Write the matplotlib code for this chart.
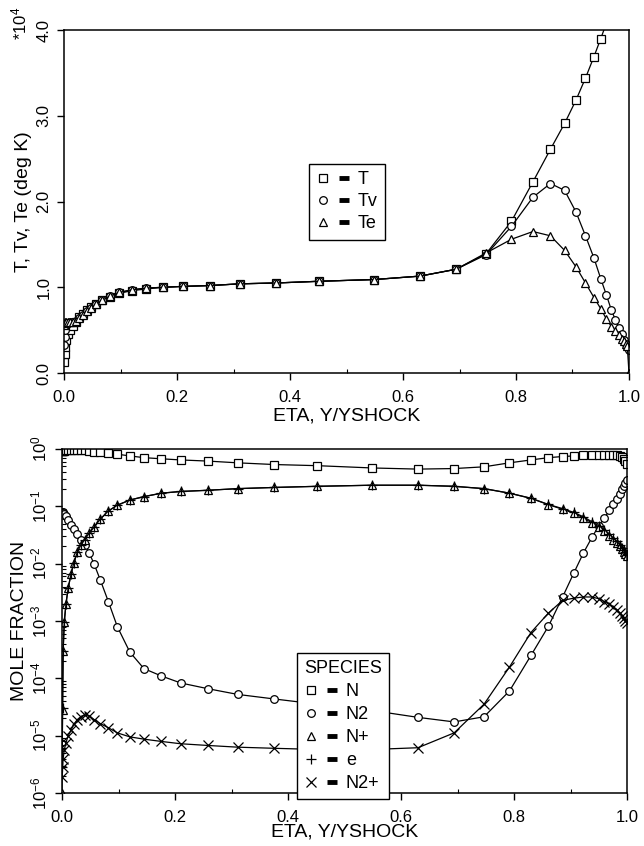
import matplotlib
matplotlib.use("Agg")
import matplotlib.pyplot as plt
from matplotlib.lines import Line2D
from matplotlib.legend_handler import HandlerTuple
from matplotlib.ticker import MultipleLocator, LogLocator, NullFormatter, FixedLocator, FixedFormatter

plt.rcParams['font.family'] = ['Liberation Sans', 'DejaVu Sans']
plt.rcParams['mathtext.fontset'] = 'custom'
plt.rcParams['mathtext.rm'] = 'Liberation Sans'
plt.rcParams['mathtext.it'] = 'Liberation Sans:italic'
plt.rcParams['mathtext.bf'] = 'Liberation Sans:bold'

# ---- grid: normalised distance from the wall, Y / YSHOCK ----
eta = [0.000, 0.001, 0.002, 0.004, 0.007, 0.011, 0.016, 0.021, 0.027, 0.033,
       0.040, 0.048, 0.057, 0.068, 0.082, 0.098, 0.120, 0.145, 0.176, 0.210,
       0.258, 0.311, 0.376, 0.452, 0.549, 0.630, 0.694, 0.747, 0.792, 0.830,
       0.861, 0.886, 0.906, 0.923, 0.938, 0.950, 0.960, 0.969, 0.976, 0.982,
       0.987, 0.991, 0.994, 0.997, 1.000]

# ---- temperatures, units of 1e4 K ----
T = [0.13, 0.22, 0.30, 0.38, 0.45, 0.50, 0.55, 0.60, 0.65, 0.69,
     0.73, 0.77, 0.81, 0.85, 0.89, 0.93, 0.96, 0.98, 1.00, 1.01,
     1.02, 1.04, 1.05, 1.07, 1.09, 1.13, 1.21, 1.39, 1.77, 2.23,
     2.61, 2.91, 3.18, 3.44, 3.69, 3.90, 4.08, 4.25, 4.38, 4.50,
     4.60, 4.68, 4.74, 4.80, 4.86]
Tv = [0.33, 0.42, 0.50, 0.56, 0.58, 0.59, 0.60, 0.61, 0.64, 0.68,
      0.72, 0.76, 0.80, 0.85, 0.90, 0.94, 0.97, 0.99, 1.00, 1.01,
      1.02, 1.04, 1.05, 1.07, 1.09, 1.13, 1.21, 1.38, 1.71, 2.05,
      2.21, 2.13, 1.88, 1.60, 1.34, 1.10, 0.91, 0.73, 0.62, 0.53,
      0.45, 0.39, 0.34, 0.30, 0.27]
Te = [0.56, 0.58, 0.59, 0.59, 0.59, 0.60, 0.60, 0.61, 0.64, 0.68,
      0.72, 0.76, 0.80, 0.85, 0.90, 0.94, 0.97, 0.99, 1.00, 1.01,
      1.02, 1.04, 1.05, 1.07, 1.09, 1.13, 1.21, 1.40, 1.56, 1.65,
      1.60, 1.43, 1.24, 1.05, 0.88, 0.75, 0.63, 0.54, 0.49, 0.44,
      0.40, 0.37, 0.34, 0.31, 0.00]

# ---- species mole fractions ----
x_N = [0.933, 0.933, 0.933, 0.933, 0.944, 0.955, 0.955, 0.966, 0.966, 0.955,
       0.944, 0.923, 0.902, 0.881, 0.851, 0.813, 0.759, 0.708, 0.676, 0.646,
       0.617, 0.575, 0.537, 0.513, 0.468, 0.447, 0.457, 0.490, 0.575, 0.646,
       0.708, 0.741, 0.759, 0.776, 0.785, 0.794, 0.794, 0.794, 0.794, 0.776,
       0.759, 0.724, 0.676, 0.617, 0.550]
x_N2 = [8.13e-2, 7.94e-2, 7.76e-2, 7.41e-2, 6.76e-2, 5.75e-2, 4.79e-2, 4.07e-2, 3.31e-2, 2.63e-2,
        2.14e-2, 1.55e-2, 9.77e-3, 5.13e-3, 2.19e-3, 7.94e-4, 2.88e-4, 1.48e-4, 1.10e-4, 8.32e-5,
        6.61e-5, 5.25e-5, 4.37e-5, 3.55e-5, 2.75e-5, 2.09e-5, 1.74e-5, 2.14e-5, 6.03e-5, 2.51e-4,
        8.13e-4, 2.63e-3, 6.92e-3, 1.55e-2, 2.88e-2, 4.57e-2, 6.31e-2, 8.51e-2, 1.10e-1, 1.35e-1,
        1.66e-1, 2.00e-1, 2.29e-1, 2.57e-1, 2.88e-1]
x_Nplus = [1.0e-6, 2.82e-5, 3.02e-4, 9.55e-4, 2.00e-3, 3.80e-3, 6.61e-3, 1.05e-2, 1.58e-2, 2.09e-2,
           2.63e-2, 3.39e-2, 4.37e-2, 6.03e-2, 8.32e-2, 1.05e-1, 1.29e-1, 1.48e-1, 1.70e-1, 1.82e-1,
           1.91e-1, 2.04e-1, 2.14e-1, 2.24e-1, 2.34e-1, 2.34e-1, 2.24e-1, 2.04e-1, 1.70e-1, 1.38e-1,
           1.07e-1, 8.91e-2, 7.59e-2, 6.31e-2, 5.13e-2, 4.37e-2, 3.72e-2, 3.09e-2, 2.63e-2, 2.29e-2,
           2.00e-2, 1.78e-2, 1.62e-2, 1.48e-2, 1.35e-2]
x_e = [2.9e-6, 3.10e-5, 3.06e-4, 9.61e-4, 2.01e-3, 3.81e-3, 6.62e-3, 1.05e-2, 1.58e-2, 2.09e-2,
       2.63e-2, 3.39e-2, 4.37e-2, 6.03e-2, 8.32e-2, 1.05e-1, 1.29e-1, 1.48e-1, 1.70e-1, 1.82e-1,
       1.91e-1, 2.04e-1, 2.14e-1, 2.24e-1, 2.34e-1, 2.34e-1, 2.24e-1, 2.04e-1, 1.70e-1, 1.39e-1,
       1.08e-1, 9.14e-2, 7.84e-2, 6.57e-2, 5.39e-2, 4.62e-2, 3.94e-2, 3.29e-2, 2.80e-2, 2.45e-2,
       2.14e-2, 1.90e-2, 1.73e-2, 1.58e-2, 1.44e-2]
x_N2plus = [1.90e-6, 2.80e-6, 3.98e-6, 5.62e-6, 7.59e-6, 1.00e-5, 1.26e-5, 1.58e-5, 1.91e-5, 2.14e-5,
            2.29e-5, 2.19e-5, 1.91e-5, 1.62e-5, 1.38e-5, 1.12e-5, 9.55e-6, 8.71e-6, 7.94e-6, 7.24e-6,
            6.76e-6, 6.31e-6, 6.03e-6, 5.75e-6, 5.75e-6, 6.17e-6, 1.12e-5, 3.55e-5, 1.58e-4, 6.31e-4,
            1.38e-3, 2.29e-3, 2.51e-3, 2.63e-3, 2.63e-3, 2.45e-3, 2.19e-3, 1.95e-3, 1.74e-3, 1.55e-3,
            1.38e-3, 1.23e-3, 1.12e-3, 1.02e-3, 9.33e-4]

x_ticks = [0.0, 0.2, 0.4, 0.6, 0.8, 1.0]
x_ticklabels = ['0.0', '0.2', '0.4', '0.6', '0.8', '1.0']
t_ticks = [0, 1, 2, 3, 4]
t_ticklabels = ['0.0', '1.0', '2.0', '3.0', '4.0']
frac_ticks = [1e-6, 1e-5, 1e-4, 1e-3, 1e-2, 1e-1, 1e0]
frac_ticklabels = [r'$10^{-6}$', r'$10^{-5}$', r'$10^{-4}$', r'$10^{-3}$',
                   r'$10^{-2}$', r'$10^{-1}$', r'$10^{0}$']

temp_series = [(T, 's', 'T'), (Tv, 'o', 'Tv'), (Te, '^', 'Te')]
species_series = [(x_N, 's', 'N'), (x_N2, 'o', 'N2'), (x_Nplus, '^', 'N+'),
                  (x_e, '+', 'e'), (x_N2plus, 'x', 'N2+')]

LW = 0.9
MS = 5.5
TICK_FS = 12
LABEL_FS = 14


def marker_style(m):
    hollow = m in ('s', 'o', '^')
    return dict(marker=m, ms=MS + (1.5 if m in ('+', 'x') else 0),
                mfc='white' if hollow else 'k', mec='k', mew=0.9)


def style_axes(ax, xlabelpad):
    for sp in ax.spines.values():
        sp.set_linewidth(1.1)
    ax.set_xlim(0, 1)
    ax.xaxis.set_major_locator(FixedLocator(x_ticks))
    ax.xaxis.set_major_formatter(FixedFormatter(x_ticklabels))
    ax.xaxis.set_minor_locator(MultipleLocator(0.1))
    ax.tick_params(which='major', direction='out', length=5, width=1.0,
                   labelsize=TICK_FS)
    ax.tick_params(axis='x', which='major', pad=7)
    ax.tick_params(axis='y', which='major', pad=4, labelrotation=90)
    ax.tick_params(which='minor', direction='in', length=3, width=0.8)
    for lab in ax.get_yticklabels():
        lab.set_va('center')
    ax.set_xlabel('ETA, Y/YSHOCK', fontsize=LABEL_FS, labelpad=xlabelpad)


def add_legend(ax, series, anchor, spacing, title=None):
    bar = Line2D([], [], ls='none', marker='_', ms=7, mew=3.5, color='k')
    handles = [(Line2D([], [], ls='none', color='k', **marker_style(m)), bar)
               for _, m, _ in series]
    labels = [name for _, _, name in series]
    leg = ax.legend(handles, labels, loc='upper left', bbox_to_anchor=anchor,
                    handler_map={tuple: HandlerTuple(ndivide=None, pad=0.5)},
                    frameon=True, fancybox=False, framealpha=1, edgecolor='k',
                    fontsize=13, handlelength=1.9, handletextpad=0.4,
                    labelspacing=spacing, borderpad=0.4, borderaxespad=0,
                    title=title, title_fontsize=13)
    leg.get_frame().set_linewidth(1.0)
    if title is not None:
        leg._legend_box.align = 'left'
    leg.set_zorder(10)
    return leg


fig = plt.figure(figsize=(6.44, 8.46), dpi=100)

# ---------------- temperatures ----------------
ax1 = fig.add_axes([0.0994, 0.5591, 0.8773, 0.4054])
for vals, m, name in temp_series:
    ax1.plot(eta, vals, color='k', lw=LW, **marker_style(m))
ax1.set_ylim(0, 4)
ax1.yaxis.set_major_locator(FixedLocator(t_ticks))
ax1.yaxis.set_major_formatter(FixedFormatter(t_ticklabels))
style_axes(ax1, xlabelpad=2)
ax1.set_ylabel('T, Tv, Te (deg K)', fontsize=LABEL_FS, labelpad=3)
add_legend(ax1, temp_series, (0.434, 0.609), spacing=0.28)
fig.text(0.030, 0.972, r'*10$^{4}$', rotation=90, ha='center', va='center',
         fontsize=12)

# ---------------- mole fractions ----------------
ax2 = fig.add_axes([0.0963, 0.0626, 0.8773, 0.4066])
for vals, m, name in species_series:
    ax2.plot(eta, vals, color='k', lw=LW, **marker_style(m))
ax2.set_yscale('log')
ax2.set_ylim(1e-6, 1)
ax2.yaxis.set_major_locator(FixedLocator(frac_ticks))
ax2.yaxis.set_major_formatter(FixedFormatter(frac_ticklabels))
ax2.yaxis.set_minor_locator(LogLocator(base=10, subs=range(2, 10), numticks=20))
ax2.yaxis.set_minor_formatter(NullFormatter())
style_axes(ax2, xlabelpad=-1)
ax2.set_ylabel('MOLE FRACTION', fontsize=LABEL_FS, labelpad=1)
add_legend(ax2, species_series, (0.416, 0.407), spacing=0.33, title='SPECIES')

fig.savefig('out.png', dpi=100)
